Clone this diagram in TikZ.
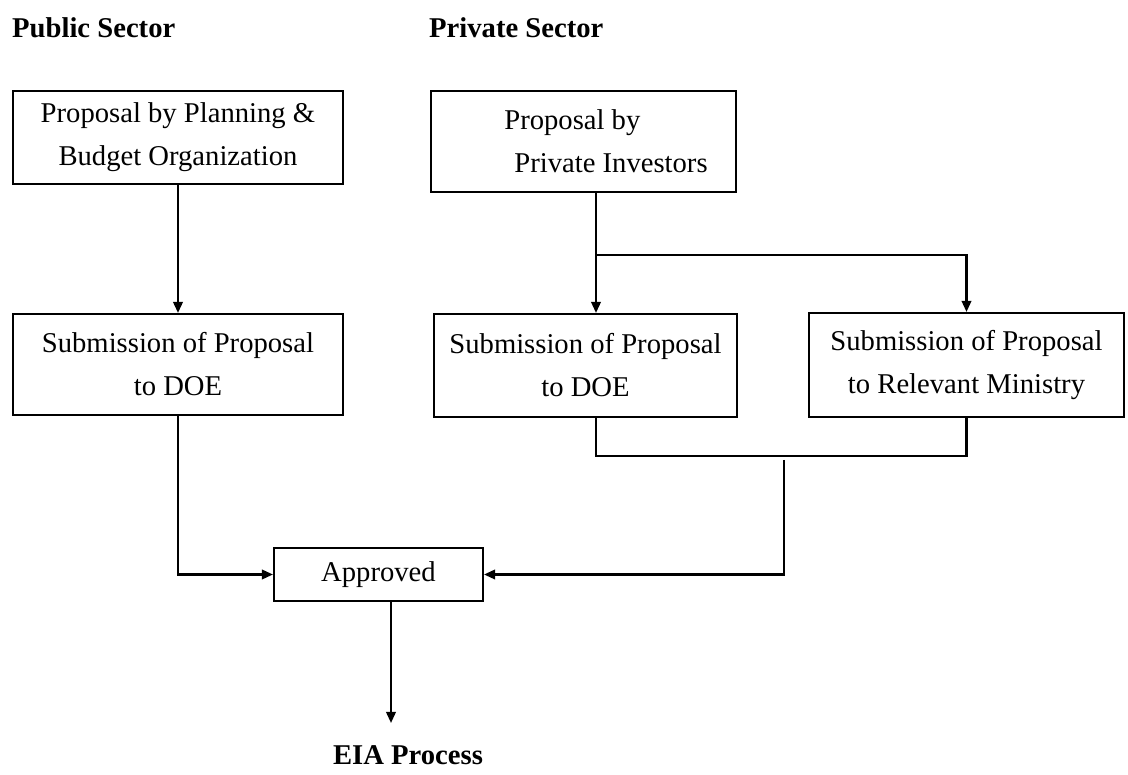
\documentclass[tikz,border=0pt]{standalone}
\usepackage{fontspec}
\setmainfont{Liberation Serif}
\usetikzlibrary{arrows.meta, positioning, calc}

\begin{document}
\begin{tikzpicture}[
  font=\fontsize{16.3}{24.5}\selectfont,
  box/.style={draw, line width=1.2pt, align=center, inner sep=0pt},
  arr/.style={line width=1.2pt, -{Triangle[length=2.2mm, width=1.9mm]}},
  lnk/.style={line width=1.2pt},
  head/.style={anchor=west, font=\fontsize{16.3}{19}\selectfont\bfseries}
]

\useasboundingbox (0,0) rectangle (22.56,15.5);

\node[head] (pubhead) at (0.12,14.94) {Public Sector};
\node[head] (privhead) at (8.46,14.94) {Private Sector};

\node[box, minimum width=6.6cm, minimum height=1.86cm] (plan) at (3.56,12.75)
{Proposal by Planning \&\\Budget Organization};
\node[box, minimum width=6.1cm, minimum height=2.02cm, align=left] (inv) at (11.67,12.67)
{\hspace*{0.9cm}Proposal by\\\hspace*{1.1cm}Private Investors};

\node[box, minimum width=6.6cm, minimum height=2.02cm] (pubdoe) at (3.56,8.21)
{Submission of Proposal\\to DOE};
\node[box, minimum width=6.06cm, minimum height=2.06cm] (privdoe) at (11.71,8.19)
{Submission of Proposal\\to DOE};
\node[box, minimum width=6.3cm, minimum height=2.08cm] (ministry) at (19.33,8.2)
{Submission of Proposal\\to Relevant Ministry};

\node[box, minimum width=4.18cm, minimum height=1.06cm] (ok) at (7.57,4.01) {Approved};

\node[font=\fontsize{16.3}{19}\selectfont\bfseries] (eiatext) at (8.16,0.4) {EIA Process};

\coordinate (split) at (11.92,10.4);
\coordinate (join) at (11.92,6.38);
\coordinate (merge) at (15.68,6.3);
\coordinate (eia) at (7.82,1.04);

\draw[arr] (plan.south) -- (pubdoe.north);

\draw[lnk] (inv.south -| split) -- (split);
\draw[arr] (split) -- (split |- privdoe.north);
\draw[arr] (split) -| (ministry.north);

\draw[lnk] (privdoe.south -| join) -- (join) -| (ministry.south);
\draw[arr] (merge) |- (ok.east);

\draw[arr] (pubdoe.south) |- (ok.west);
\draw[arr] (ok.south -| eia) -- (eia);

\end{tikzpicture}
\end{document}
